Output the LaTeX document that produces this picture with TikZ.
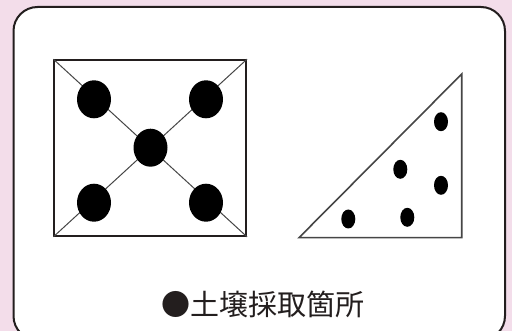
\documentclass[tikz,border=0pt]{standalone}
\usepackage{fontspec}
\newfontfamily\cjk{Noto Sans CJK JP}
\usetikzlibrary{shapes.geometric}
\definecolor{bgpink}{RGB}{243,221,234}
\definecolor{frameline}{RGB}{35,30,30}
\definecolor{diagline}{RGB}{70,70,70}
\tikzset{
  bigdot/.style={ellipse,fill=black,inner sep=0pt,minimum width=34pt,minimum height=38pt},
  smalldot/.style={ellipse,fill=black,inner sep=0pt,minimum width=14pt,minimum height=19pt},
  sqbox/.style={draw=frameline,line width=1.6pt,inner sep=0pt,minimum width=192pt,minimum height=176pt},
  diag/.style={draw=diagline,line width=1pt},
  tri/.style={draw=diagline,line width=1.6pt,line join=miter},
}
\begin{document}
\begin{tikzpicture}[x=1pt,y=-1pt]
\useasboundingbox (0,0) rectangle (512,331);
\fill[bgpink] (0,0) rectangle (512,331);
\draw[frameline,fill=white,line width=2pt,rounded corners=24pt] (13.5,7) rectangle (505,340);
% square with diagonals
\node[sqbox] (sq) at (150.2,148) {};
\draw[diag] (sq.north west) -- (sq.south east);
\draw[diag] (sq.south west) -- (sq.north east);
\node[bigdot] (d1) at (94,99.3) {};
\node[bigdot] (d2) at (206,99.3) {};
\node[bigdot] (d3) at (150.5,147.7) {};
\node[bigdot] (d4) at (94,202.7) {};
\node[bigdot] (d5) at (206,202.7) {};
% triangle
\coordinate (ta) at (299,237.7);
\coordinate (tb) at (461.7,74);
\coordinate (tc) at (461.7,237.7);
\draw[tri] (ta) -- (tb) -- (tc) -- cycle;
\node[smalldot] (s1) at (441,121.7) {};
\node[smalldot] (s2) at (400.3,169.3) {};
\node[smalldot] (s3) at (441,185.3) {};
\node[smalldot] (s4) at (348.3,219) {};
\node[smalldot] (s5) at (407.3,217.3) {};
% label
\node[font=\cjk\fontsize{29pt}{31pt}\selectfont,text=frameline,inner sep=0pt] (lbl) at (262.5,304) {●土壌採取箇所};
\end{tikzpicture}
\end{document}
